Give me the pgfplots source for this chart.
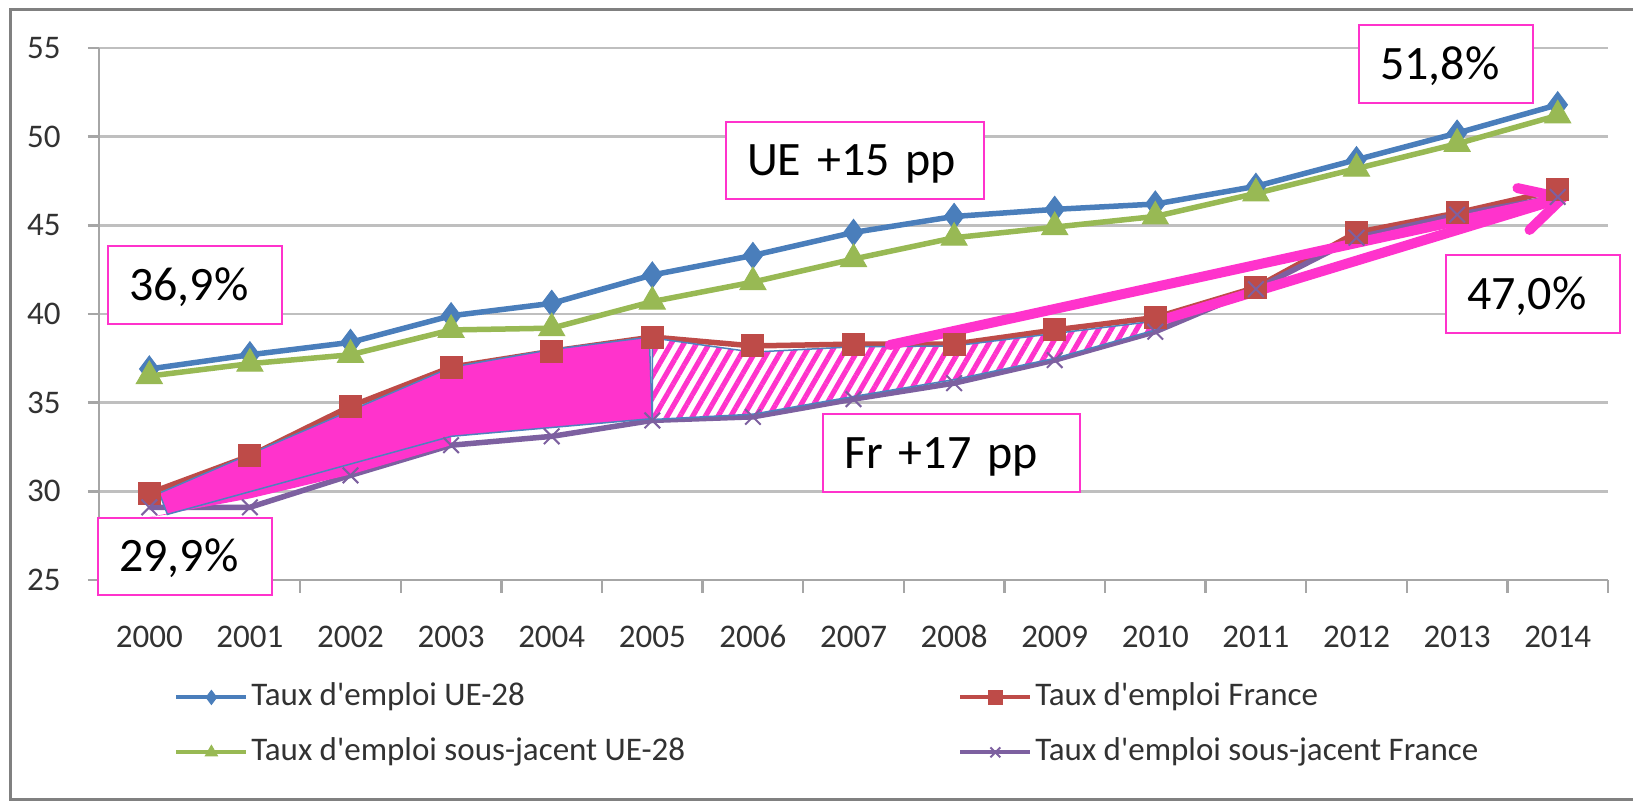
\documentclass[border=0pt]{standalone}
\usepackage{pgfplots}
\pgfplotsset{compat=1.18}
\usepackage{fontspec}
\setmainfont{Carlito}
\usetikzlibrary{patterns.meta}
\definecolor{cBlue}{RGB}{74,126,187}
\definecolor{cRed}{RGB}{190,75,72}
\definecolor{cGreen}{RGB}{152,185,84}
\definecolor{cPurple}{RGB}{125,96,160}
\definecolor{cPink}{RGB}{255,51,204}
\definecolor{cEdge}{RGB}{79,129,189}
\definecolor{cGrid}{RGB}{191,191,191}
\definecolor{cAxis}{RGB}{166,166,166}
\definecolor{cFrame}{RGB}{128,128,128}
\definecolor{cText}{RGB}{50,50,50}
\begin{document}
\begin{tikzpicture}
\useasboundingbox (0,0) rectangle (816.5pt,401pt);
\fill[white] (0,0) rectangle (816.5pt,401pt);
\draw[cFrame, line width=1.5pt] (820pt,396pt) -- (5pt,396pt) -- (5pt,1pt) -- (820pt,1pt);
\begin{axis}[
  at={(49.5pt,111pt)}, anchor=south west, scale only axis,
  width=754.5pt, height=266pt,
  xmin=-0.5, xmax=14.5, ymin=25, ymax=55,
  xtick={0,...,14},
  xticklabels={2000,2001,2002,2003,2004,2005,2006,2007,2008,2009,2010,2011,2012,2013,2014},
  minor xtick={-0.5,0.5,...,14.5},
  ytick={25,30,...,55},
  /pgf/number format/assume math mode=true,
  tick align=outside,
  axis x line*=bottom, axis y line*=left,
  axis line style={-, draw=cAxis, line width=1.25pt},
  major tick length=5.5pt, minor tick length=6.5pt,
  major x tick style={draw=none},
  minor x tick style={draw=cAxis, line width=1.25pt},
  major y tick style={draw=cAxis, line width=1.25pt},
  ymajorgrids, major grid style={draw=cGrid, line width=1.25pt},
  xticklabel style={font=\fontsize{16.5}{18}\selectfont, text=cText, anchor=north, inner sep=0pt, text height=10.4pt, text depth=0pt, yshift=-17.5pt},
  yticklabel style={font=\fontsize{16.5}{18}\selectfont, text=cText, anchor=east, inner sep=0pt, text height=10.4pt, text depth=0pt, xshift=-13.5pt},
  legend columns=2,
  legend cell align=left,
  legend style={at={(0.0497,-0.1842)}, anchor=north west, draw=none, fill=none, inner sep=0pt, column sep=0pt, row sep=8.5pt, font=\fontsize{16.5}{18}\selectfont, text=cText, nodes={inner sep=1.5pt, text height=12pt, text depth=4pt}},
  legend image code/.code={\draw[mark repeat=2,mark phase=2,#1, line width=2pt, mark size=3.5pt] plot coordinates {(0pt,0pt) (17.5pt,0pt) (35pt,0pt)};},
]
\addplot[cBlue, line width=2.75pt, mark=diamond*, mark size=6.5pt, mark options={solid, fill=cBlue, draw=cBlue, line width=0.5pt}]
 coordinates {(0,36.9)(1,37.7)(2,38.4)(3,39.9)(4,40.6)(5,42.2)(6,43.3)(7,44.6)(8,45.5)(9,45.9)(10,46.2)(11,47.2)(12,48.7)(13,50.2)(14,51.8)};
\addlegendentry{\makebox[352pt][l]{Taux d\textquotesingle emploi UE-28}}
\addplot[cRed, line width=2.75pt, mark=square*, mark size=5.5pt, mark options={solid, fill=cRed, draw=cRed, line width=0.5pt}]
 coordinates {(0,29.9)(1,32.0)(2,34.8)(3,37.0)(4,37.9)(5,38.7)(6,38.2)(7,38.3)(8,38.3)(9,39.1)(10,39.8)(11,41.5)(12,44.6)(13,45.7)(14,47.0)};
\addlegendentry{Taux d\textquotesingle emploi France}
\addplot[cGreen, line width=2.75pt, mark=triangle*, mark size=7.5pt, mark options={solid, fill=cGreen, draw=cGreen, line width=0.5pt}]
 coordinates {(0,36.5)(1,37.2)(2,37.7)(3,39.1)(4,39.2)(5,40.7)(6,41.8)(7,43.1)(8,44.3)(9,44.9)(10,45.5)(11,46.8)(12,48.2)(13,49.6)(14,51.2)};
\addlegendentry{\makebox[352pt][l]{Taux d\textquotesingle emploi sous-jacent UE-28}}
\addplot[cPurple, line width=2.75pt, mark=x, mark size=5.5pt, mark options={solid, draw=cPurple, line width=1pt}]
 coordinates {(0,29.1)(1,29.1)(2,30.9)(3,32.6)(4,33.1)(5,34.0)(6,34.2)(7,35.2)(8,36.1)(9,37.4)(10,39.0)(11,41.4)(12,44.3)(13,45.6)(14,46.6)};
\addlegendentry{Taux d\textquotesingle emploi sous-jacent France}
% pink annotation shapes
\addplot[fill=cPink, draw=none, forget plot]
 coordinates {(0,28.55)(0.18,28.7)(3,33.1)(3,32.6)(2,30.95)(1,29.6)} -- cycle;
\addplot[fill=cPink, draw=cEdge, line width=0.75pt, forget plot]
 coordinates {(0.1,29.9)(3,37.0)(4,38.0)(4.97,38.7)(5,34.1)(4,33.6)(3,33.1)(0.18,28.7)} -- cycle;
\addplot[fill=white, draw=none, forget plot]
 coordinates {(5,38.65)(6,37.85)(7,38.15)(8,38.2)(10,39.6)(10,39.1)(9,37.5)(8,36.3)(7,35.35)(6,34.35)(5,34.05)} -- cycle;
\addplot[pattern={Lines[angle=60,distance=5.5pt,line width=2.6pt]}, pattern color=cPink, draw=cEdge, line width=0.75pt, forget plot]
 coordinates {(5,38.65)(6,37.85)(7,38.15)(8,38.2)(10,39.6)(10,39.1)(9,37.5)(8,36.3)(7,35.35)(6,34.35)(5,34.05)} -- cycle;
% arrows
\addplot[cPink, line width=5pt, line cap=round, forget plot] coordinates {(7.36,38.25)(14.05,46.55)};
\addplot[cPink, line width=5pt, line cap=round, forget plot] coordinates {(10.0,39.55)(14.05,46.55)};
\addplot[cPink, line width=5pt, line cap=round, line join=round, forget plot] coordinates {(13.6,47.1)(14.05,46.55)(13.72,44.74)};
\end{axis}
\tikzset{box/.style={draw=cPink, line width=1pt, fill=white, anchor=north west, inner xsep=10.5pt, inner ysep=0pt, align=left, font=\fontsize{24}{28}\selectfont, text height=15.5pt, text depth=0pt}}
\node[box, text width=66pt, minimum height=39pt] at (53.5pt,278.5pt) {36,9\%};
\node[box, text width=66pt, minimum height=38.5pt] at (48.5pt,142.5pt) {29,9\%};
\node[box, text width=108pt, minimum height=38.5pt] at (362.5pt,340.5pt) {UE +15 pp};
\node[box, text width=66pt, minimum height=39pt] at (679pt,389pt) {51,8\%};
\node[box, text width=66pt, minimum height=39pt] at (722.5pt,274pt) {47,0\%};
\node[box, text width=107.5pt, minimum height=39pt] at (411pt,194.5pt) {Fr +17 pp};
\end{tikzpicture}
\end{document}
